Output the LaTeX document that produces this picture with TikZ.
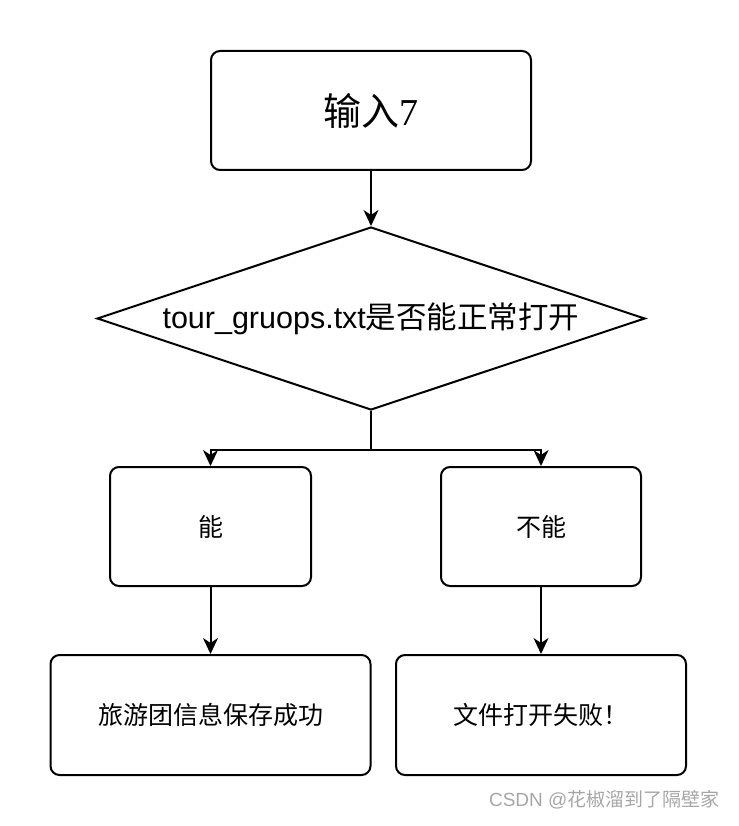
\documentclass[tikz,border=0pt]{standalone}
\usepackage{fontspec}
\setmainfont{Liberation Sans}
\newfontfamily\cjk{Noto Sans CJK SC}
\newfontfamily\numfont{Liberation Serif}
\usetikzlibrary{arrows.meta,shapes.geometric}

\begin{document}
\begin{tikzpicture}[x=1pt, y=-1pt,
  box/.style = {draw, line width=2pt, rounded corners=9pt, inner sep=0pt,
    minimum height=119pt, font=\fontsize{25}{30}\selectfont\cjk},
  decision/.style = {draw, diamond, line width=2pt, inner sep=0pt, aspect=3,
    minimum width=548pt, minimum height=183pt},
  arr/.style = {line width=2pt, -{Stealth[length=16pt, width=15pt, inset=5pt]}},
  line/.style = {line width=2pt}]
\useasboundingbox (0,0) rectangle (738,826);

\node[box, minimum width=320pt] (input) at (371,110.5)
  {\fontsize{38}{42}\selectfont 输入{\numfont 7}};
\node[decision] (check) at (371,318.5)
  {\fontsize{30.5}{34}\selectfont tour\_gruops.txt{\cjk 是否能正常打开}};
\node[box, minimum width=201pt] (yes) at (210.5,526.5) {能};
\node[box, minimum width=200pt] (no) at (541,526.5) {不能};
\node[box, minimum width=320pt, minimum height=120pt] (saved) at (210.5,715) {旅游团信息保存成功};
\node[box, minimum width=290pt, minimum height=120pt] (failed) at (541,715) {文件打开失败！};
\coordinate (split) at (371,450);

\draw[arr] (input) -- (check);
\draw[line] (check) -- (split);
\draw[arr] (split) -| (yes);
\draw[arr] (split) -| (no);
\draw[arr] (yes) -- (saved);
\draw[arr] (no) -- (failed);

\node[anchor=base east, text=black!35, font=\fontsize{19}{23}\selectfont] (mark) at (723,806)
  {CSDN @{\cjk 花椒溜到了隔壁家}};
\end{tikzpicture}
\end{document}
